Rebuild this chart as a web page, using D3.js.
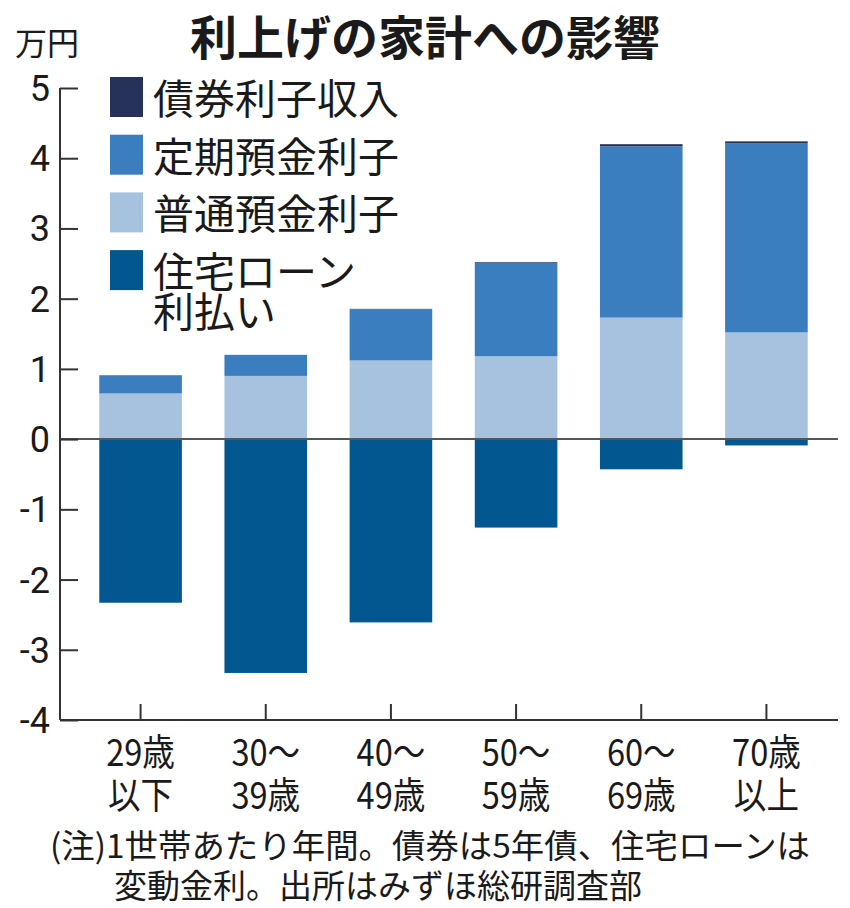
<!DOCTYPE html>
<html>
<head>
<meta charset="utf-8">
<script src="https://cdn.jsdelivr.net/npm/d3@7"></script>
<style>
  html, body { margin: 0; padding: 0; background: #fff; }
  text { font-family: "Noto Sans CJK JP", "Noto Sans", sans-serif; fill: #1a1a1a; }
  .num { font-family: "Liberation Sans Narrow", "Roboto", sans-serif; }
</style>
</head>
<body>
<div id="chart"></div>
<script>
// 年代別カテゴリ (2行ラベル)
const categories = ["29歳以下", "30～39歳", "40～49歳", "50～59歳", "60～69歳", "70歳以上"];
const categoryLines = [["29歳", "以下"], ["30～", "39歳"], ["40～", "49歳"], ["50～", "59歳"], ["60～", "69歳"], ["70歳", "以上"]];

// 万円
const futsuu = [0.65, 0.90, 1.12, 1.18, 1.73, 1.52];   // 普通預金利子
const teiki  = [0.26, 0.30, 0.73, 1.33, 2.44, 2.69];   // 定期預金利子
const saiken = [0.00, 0.00, 0.005, 0.01, 0.03, 0.03];  // 債券利子収入
const loan   = [-2.33, -3.33, -2.61, -1.26, -0.43, -0.09]; // 住宅ローン利払い

const yTicks = [5, 4, 3, 2, 1, 0, -1, -2, -3, -4];

const seriesKeys = ["futsuu", "teiki", "saiken", "loan"];
const colors = {saiken: "#27325a", teiki: "#3a7ebf", futsuu: "#a7c2df", loan: "#035791"};

const legendItems = [
    {key: "saiken", lines: ["債券利子収入"]},
    {key: "teiki", lines: ["定期預金利子"]},
    {key: "futsuu", lines: ["普通預金利子"]},
    {key: "loan", lines: ["住宅ローン", "利払い"]}
];

const noteLines = ["(注)1世帯あたり年間。債券は5年債、住宅ローンは", "変動金利。出所はみずほ総研調査部"];

const W = 850, H = 908;
const svg = d3.select("#chart").append("svg")
    .attr("width", W).attr("height", H);

const table = categories.map((c, i) => ({
    cat: c, futsuu: futsuu[i], teiki: teiki[i], saiken: saiken[i], loan: loan[i]
}));

const stacked = d3.stack().keys(seriesKeys).offset(d3.stackOffsetDiverging)(table);

const x = d3.scaleBand()
    .domain(categories)
    .range([78, 829])
    .paddingInner(0.34)
    .paddingOuter(0.17);

const y = d3.scaleLinear()
    .domain([-4, 5])
    .range([720, 88]);

const axisLeft = 60, axisRight = 838;

// bars
svg.append("g").selectAll("g")
    .data(stacked)
    .join("g")
    .attr("fill", d => colors[d.key])
    .selectAll("rect")
    .data(d => d)
    .join("rect")
    .attr("x", d => x(d.data.cat))
    .attr("width", x.bandwidth())
    .attr("y", d => y(Math.max(d[0], d[1])))
    .attr("height", d => Math.abs(y(d[0]) - y(d[1])));

// zero line
svg.append("line")
    .attr("x1", axisLeft).attr("x2", axisRight)
    .attr("y1", y(0)).attr("y2", y(0))
    .attr("stroke", "#555").attr("stroke-width", 2);

// y axis
const yAxis = svg.append("g")
    .attr("transform", `translate(${axisLeft},0)`)
    .call(d3.axisRight(y).tickValues(yTicks).tickSize(18).tickFormat(""));
yAxis.select(".domain").attr("stroke", "#333").attr("stroke-width", 2).attr("d", `M0,${y(5)}V${y(-4)}`);
yAxis.selectAll(".tick line").attr("stroke", "#333").attr("stroke-width", 2);

svg.append("g").selectAll("text")
    .data(yTicks)
    .join("text")
    .attr("class", "num")
    .attr("x", 50)
    .attr("y", d => y(d))
    .attr("dy", "0.36em")
    .attr("text-anchor", "end")
    .attr("font-size", 36)
    .text(d => d);

// x axis
const xAxis = svg.append("g")
    .attr("transform", `translate(0,${y(-4)})`)
    .call(d3.axisTop(x).tickSize(16).tickFormat(""));
xAxis.select(".domain").attr("stroke", "#333").attr("stroke-width", 2).attr("d", `M${axisLeft},0H${axisRight}`);
xAxis.selectAll(".tick line").attr("stroke", "#333").attr("stroke-width", 2);

categories.forEach((c, i) => {
    categoryLines[i].forEach((t, j) => {
        svg.append("text")
            .attr("font-size", 37)
            .attr("text-anchor", "middle")
            .attr("transform", `translate(${x(c) + x.bandwidth() / 2},${766 + j * 43}) scale(0.88,1)`)
            .text(t);
    });
});

// legend
const lg = svg.append("g");
legendItems.forEach((it, i) => {
    const top = 77 + i * 57.7;
    lg.append("rect")
        .attr("x", 110).attr("y", top)
        .attr("width", 33).attr("height", 40)
        .attr("fill", colors[it.key]);
    it.lines.forEach((t, j) => {
        lg.append("text")
            .attr("x", 153)
            .attr("y", top + 37 + j * 40)
            .attr("font-size", 41)
            .text(t);
    });
});

// title + unit
svg.append("text")
    .attr("x", 425).attr("y", 55)
    .attr("text-anchor", "middle")
    .attr("font-size", 47)
    .attr("font-weight", "bold")
    .text("利上げの家計への影響");

svg.append("text")
    .attr("x", 15).attr("y", 55)
    .attr("font-size", 32)
    .text("万円");

// note
svg.append("text")
    .attr("x", 50).attr("y", 858)
    .attr("font-size", 33)
    .attr("textLength", 760)
    .attr("lengthAdjust", "spacingAndGlyphs")
    .text(noteLines[0]);
svg.append("text")
    .attr("x", 114).attr("y", 898)
    .attr("font-size", 33)
    .text(noteLines[1]);
</script>
</body>
</html>
